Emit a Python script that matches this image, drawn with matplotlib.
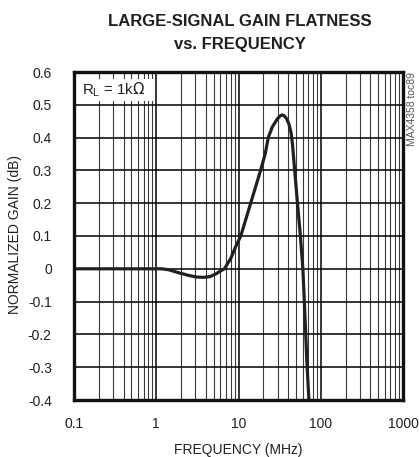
import matplotlib
matplotlib.use("Agg")
import matplotlib.pyplot as plt
from matplotlib.patches import Rectangle
from matplotlib.ticker import FixedLocator, LogLocator, NullFormatter

plt.rcParams['font.family'] = ['Liberation Sans', 'DejaVu Sans']

# Large-signal normalized gain vs. frequency (R_L = 1k)
freq_mhz = [0.1, 0.3, 0.6, 1.0, 1.17, 1.42, 1.87, 2.46, 3.06, 3.71, 4.5, 5.35,
            6.1, 6.75, 8.1, 9.3, 10.66, 14.06, 18.55, 21.1, 23.0, 25.7, 29.5,
            32.0, 33.9, 35.8, 38.4, 41.2, 43.5, 45.3, 48.2, 52.1, 56.6, 60.6,
            63.2, 65.7, 68.3, 71.8]
gain_db = [0.0, 0.0, 0.0, 0.0, 0.0, -0.003, -0.012, -0.02, -0.025, -0.026,
           -0.024, -0.015, -0.006, 0.0, 0.033, 0.069, 0.1, 0.2, 0.3, 0.35, 0.4,
           0.432, 0.456, 0.466, 0.469, 0.467, 0.458, 0.44, 0.415, 0.38, 0.3,
           0.2, 0.1, 0.0, -0.1, -0.2, -0.3, -0.4]

x_ticks = [0.1, 1, 10, 100, 1000]
x_labels = ['0.1', '1', '10', '100', '1000']
y_ticks = [-0.4, -0.3, -0.2, -0.1, 0, 0.1, 0.2, 0.3, 0.4, 0.5, 0.6]
y_labels = ['-0.4', '-0.3', '-0.2', '-0.1', '0', '0.1', '0.2', '0.3', '0.4', '0.5', '0.6']

INK = '#231f20'
W, H = 419, 457
fig = plt.figure(figsize=(W / 100, H / 100), dpi=100)
ax = fig.add_axes([74 / W, 1 - 400 / H, (403 - 74) / W, (400 - 72) / H])

ax.set_xscale('log')
ax.set_xlim(0.1, 1000)
ax.set_ylim(-0.4, 0.6)

ax.xaxis.set_major_locator(FixedLocator(x_ticks))
ax.set_xticklabels(x_labels)
ax.xaxis.set_minor_locator(LogLocator(base=10, subs=range(2, 10), numticks=20))
ax.xaxis.set_minor_formatter(NullFormatter())
ax.set_yticks(y_ticks)
ax.set_yticklabels(y_labels)

ax.grid(True, which='major', color='black', lw=1.1, zorder=1)
ax.grid(True, which='minor', axis='x', color='#3a3a3a', lw=0.8, zorder=1)
ax.set_axisbelow(True)

ax.tick_params(which='both', length=0, labelsize=10, colors=INK)
ax.tick_params(axis='y', pad=16)
ax.tick_params(axis='x', pad=12)

for s in ax.spines.values():
    s.set_linewidth(2.4)
    s.set_color('#111111')
    s.set_zorder(5)

ax.plot(freq_mhz, gain_db, color=INK, lw=2.3, solid_joinstyle='round', zorder=4)

# Load condition label on a white patch
ax.add_patch(Rectangle((0, 0.912), 0.24, 0.067, transform=ax.transAxes,
                       facecolor='white', edgecolor='none', zorder=3))
ax.text(0.025, 0.945, r'R$_\mathregular{L}$ = 1k$\Omega$', transform=ax.transAxes,
        fontsize=10.8, va='center', ha='left', color=INK, zorder=6)

ax.set_xlabel('FREQUENCY (MHz)', fontsize=10, color=INK)
ax.set_ylabel('NORMALIZED GAIN (dB)', fontsize=10, color=INK)
ax.xaxis.set_label_coords(0.5, -0.132)
ax.yaxis.set_label_coords(-0.158, 0.505)

fig.text(240 / W, 1 - 33 / H, 'LARGE-SIGNAL GAIN FLATNESS\nvs. FREQUENCY',
         ha='center', va='center', fontsize=12, fontweight='bold',
         color=INK, linespacing=1.6)

fig.text(412 / W, 1 - 109 / H, 'MAX4358 toc89', rotation=90, ha='center',
         va='center', fontsize=7.5, color='#555555')

fig.savefig('out.png', dpi=100)
